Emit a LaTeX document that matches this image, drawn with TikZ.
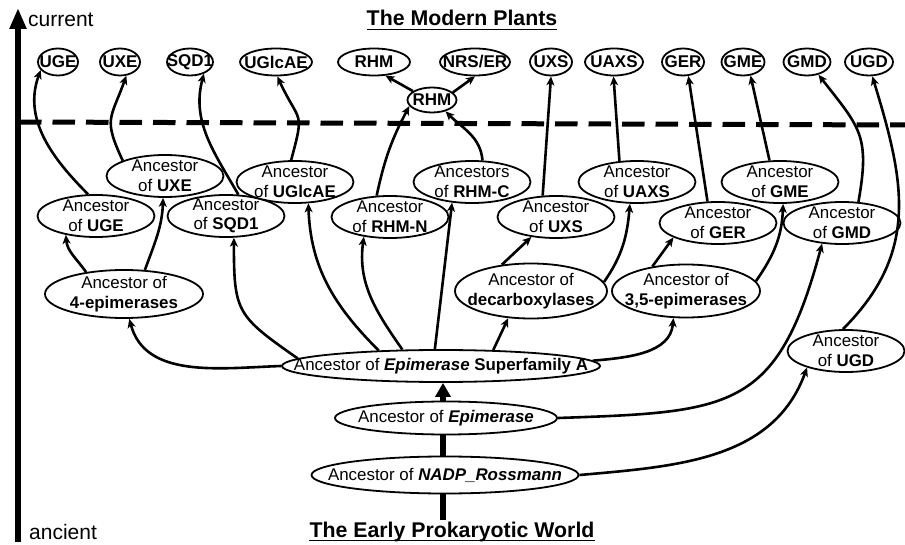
\documentclass[tikz,border=0pt]{standalone}
\usepackage{fontspec}
\setmainfont{Liberation Sans}
\usetikzlibrary{shapes.geometric,arrows.meta}
\newcommand{\ndfont}{\fontsize{16.9}{19.5}\selectfont}
\newcommand{\lffont}{\fontsize{17}{19}\selectfont\bfseries}
\newcommand{\hdfont}{\fontsize{21.3}{24}\selectfont\bfseries}
\newcommand{\axfont}{\fontsize{21}{24}\selectfont}

\begin{document}
\begin{tikzpicture}[x=1pt, y=-1pt,
    leaf/.style={ellipse, draw, fill=white, line width=1.8pt, inner sep=-30pt, minimum height=27pt, font=\lffont},
    anc/.style={ellipse, draw, fill=white, line width=1.8pt, inner sep=-60pt, minimum width=117pt, minimum height=42pt, align=center, font=\ndfont},
    grp/.style={anc, minimum width=152pt, minimum height=52pt},
    deep/.style={anc, inner sep=-150pt, minimum height=34pt},
    conn/.style={line width=2.6pt, -{Stealth[length=9pt, width=8pt, inset=2.5pt]}},
    stem/.style={line width=6pt},
    heading/.style={inner sep=0pt, anchor=base, font=\hdfont},
    axlabel/.style={inner sep=0pt, anchor=base west, font=\axfont}]
        \useasboundingbox (0,0) rectangle (905,545);
        % time axis and the line of today
        \coordinate (past) at (18,542);
        \coordinate (now) at (18,8);
        \coordinate (todayL) at (19,122);
        \coordinate (todayR) at (905,125);
        \draw[line width=5pt, dash pattern=on 22.5pt off 11pt] (todayL) -- (todayR);
        \draw[line width=6.5pt, -{Triangle[length=21pt, width=16pt]}] (past) -- (now);
        \node[axlabel] (current) at (28,27) {current};
        \node[axlabel] (ancient) at (29,539) {ancient};
        % headings
        \node[heading] (modern) at (462,26) {The Modern Plants};
        \draw[line width=1.8pt] ([yshift=-3.5pt]modern.base west) -- ([yshift=-3.5pt]modern.base east);
        \node[heading] (early) at (452,537) {The Early Prokaryotic World};
        \draw[line width=1.8pt] ([yshift=-3.5pt]early.base west) -- ([yshift=-3.5pt]early.base east);

        % the modern plants
        \node[leaf, minimum width=40pt] (uge)    at (58,62)  {UGE};
        \node[leaf, minimum width=40pt] (uxe)    at (120,62) {UXE};
        \node[leaf, minimum width=46pt] (sqd)    at (190,62) {SQD1};
        \node[leaf, minimum width=72pt] (uglcae) at (276,62) {UGlcAE};
        \node[leaf, minimum width=72pt] (rhm)    at (374,62) {RHM};
        \node[leaf, minimum width=70pt] (nrs)    at (475,62) {NRS/ER};
        \node[leaf, minimum width=42pt] (uxs)    at (551,62) {UXS};
        \node[leaf, minimum width=58pt] (uaxs)   at (614,62) {UAXS};
        \node[leaf, minimum width=42pt] (ger)    at (683,62) {GER};
        \node[leaf, minimum width=43pt] (gme)    at (743,62) {GME};
        \node[leaf, minimum width=47pt] (gmd)    at (807,62) {GMD};
        \node[leaf, minimum width=48pt] (ugd)    at (869,62) {UGD};
        \node[leaf, minimum width=49pt, minimum height=25pt] (rhmx) at (432,100) {RHM};

        % ancestors of single families
        \node[anc] (aUXE)    at (165,176) {Ancestor\\of \textbf{UXE}};
        \node[anc] (aUGE)    at (96,216)  {Ancestor\\of \textbf{UGE}};
        \node[anc] (aSQD)    at (226,216) {Ancestor\\of \textbf{SQD1}};
        \node[anc] (aUGlcAE) at (295,182) {Ancestor\\of \textbf{UGlcAE}};
        \node[anc] (aRHMN)   at (390,217) {Ancestor\\of \textbf{RHM-N}};
        \node[anc] (aRHMC)   at (472,182) {Ancestors\\of \textbf{RHM-C}};
        \node[anc] (aUXS)    at (556,217) {Ancestor\\of \textbf{UXS}};
        \node[anc] (aUAXS)   at (637,182) {Ancestor\\of \textbf{UAXS}};
        \node[anc] (aGER)    at (718,223) {Ancestor\\of \textbf{GER}};
        \node[anc] (aGME)    at (780,182) {Ancestor\\of \textbf{GME}};
        \node[anc] (aGMD)    at (842,223) {Ancestor\\of \textbf{GMD}};
        \node[anc] (aUGD)    at (846,351) {Ancestor\\of \textbf{UGD}};

        % ancestors of groups
        \node[grp, minimum width=158pt, minimum height=48pt] (epiFour) at (124,294) {Ancestor of\\\textbf{4-epimerases}};
        \node[grp, minimum height=55pt] (decarb) at (531,291) {Ancestor of\\\textbf{decarboxylases}};
        \node[grp, minimum width=148pt, minimum height=53pt] (epiThreeFive) at (686,291) {Ancestor of\\\textbf{3,5-epimerases}};

        % the old root
        \node[deep, minimum width=318pt, minimum height=32pt] (supA) at (441,366)
        {Ancestor of \textbf{\textit{Epimerase} Superfamily A}};
        \node[deep, minimum width=222pt, minimum height=33pt] (epim) at (446,418) {Ancestor of \textbf{\textit{Epimerase}}};
        \node[deep, minimum width=267pt, minimum height=37pt] (nadp) at (445,475) {Ancestor of \textbf{\textit{NADP\_Rossmann}}};
        \coordinate (root) at (443,520);
        \draw[stem] (nadp.south -| root) -- (root);
        \draw[stem] (nadp.north -| root) -- (epim.south -| root);
        \draw[stem, -{Triangle[length=14pt, width=15pt]}] (epim.north -| root) -- (supA.south -| root);

        % from the root upwards
        \draw[conn] (epim.0) to[out=2, in=255, looseness=1.4] (aGMD.226);
        \draw[conn] (nadp.0) to[out=5, in=250] (aUGD.203);
        \draw[conn] (supA.180) to[out=182, in=285] (epiFour.282);
        \draw[conn] (supA.177) to[out=145, in=270, looseness=1.4] (aSQD.290);
        \draw[conn] (supA.166) to[out=135, in=272] (aUGlcAE.302);
        \draw[conn] (supA.157) to[out=125, in=262] (aRHMN.217);
        \draw[conn] (supA.110) -- (aRHMC.226);
        \draw[conn] (supA.17) -- (decarb.230);
        \draw[conn] (supA.2) to[out=5, in=265] (epiThreeFive.245);

        % group ancestors
        \draw[conn] (epiFour.150) to[out=125, in=275] (aUGE.212);
        \draw[conn] (epiFour.49) to[out=70, in=268] (aUXE.265);
        \draw[conn] (decarb.138) -- (aUXS.219);
        \draw[conn] (decarb.7) to[out=55, in=265] (aUAXS.252);
        \draw[conn] (epiThreeFive.144) -- (aGER.198);
        \draw[conn] (epiThreeFive.8) to[out=55, in=268] (aGME.278);

        % up to the modern plants
        \draw[conn] (aUGE.110) to[out=135, in=250] (uge.205);
        \draw[conn] (aUXE.160) to[out=115, in=250, looseness=1.4] (uxe.295);
        \draw[conn] (aSQD.60) to[out=120, in=255] (sqd.320);
        \draw[conn] (aUGlcAE.100) to[out=75, in=295, looseness=1.6] (uglcae.275);
        \draw[conn] (aRHMN.122) to[bend left=8] (rhmx.195);
        \draw[conn] (aRHMC.64) to[out=95, in=315] (rhmx.320);
        \draw[conn] (rhmx.155) -- (rhm.310);
        \draw[conn] (rhmx.20) -- (nrs.270);
        \draw[conn] (aUXS.122) -- (uxs.270);
        \draw[conn] (aUAXS.130) -- (uaxs.268);
        \draw[conn] (aGER.116) -- (ger.291);
        \draw[conn] (aGME.116) -- (gme.299);
        \draw[conn] (aGMD.52) to[out=80, in=308, looseness=1.3] (gmd.312);
        \draw[conn] (aUGD.98) to[out=45, in=287, looseness=1.1] (ugd.283);
\end{tikzpicture}
\end{document}
